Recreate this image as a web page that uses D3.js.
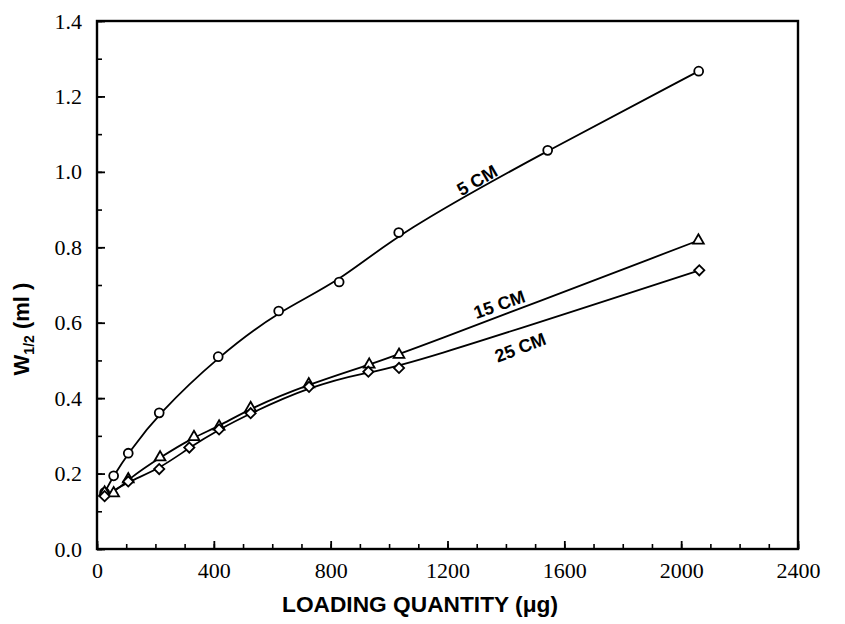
<!DOCTYPE html>
<html>
<head>
<meta charset="utf-8">
<script src="https://cdn.jsdelivr.net/npm/d3@7/dist/d3.min.js"></script>
<style>
    body { margin: 0; background: #fff; }
    .tick text { font-family: 'Liberation Serif', 'Times New Roman', serif; font-size: 22px; fill: #000; }
    .axis-title, .curve-label { font-family: 'Liberation Sans', Arial, sans-serif; font-weight: bold; fill: #000; }
</style>
</head>
<body>
<div id="vis"></div>
<script>
// values (x as the marks sit on the printed axis)
var x5cm = [26, 57, 107, 213, 415, 622, 829, 1033, 1543, 2060];
var y5cm = [0.150, 0.194, 0.254, 0.361, 0.510, 0.631, 0.708, 0.839, 1.057, 1.267];

var x15cm = [26, 57, 107, 216, 332, 418, 526, 725, 932, 1034, 2059];
var y15cm = [0.150, 0.148, 0.185, 0.243, 0.297, 0.325, 0.374, 0.437, 0.489, 0.515, 0.818];

var x25cm = [26, 107, 213, 316, 418, 526, 726, 929, 1034, 2062];
var y25cm = [0.140, 0.179, 0.212, 0.269, 0.317, 0.360, 0.430, 0.470, 0.480, 0.739];

var xTicks = [0, 400, 800, 1200, 1600, 2000, 2400];
var yTicks = [0.0, 0.2, 0.4, 0.6, 0.8, 1.0, 1.2, 1.4];

var zip = function(xs, ys) {
    return xs.map(function(v, i) { return {x: v, y: ys[i]}; });
};

var series = [
    {name: '5 CM', marker: 'circle', values: zip(x5cm, y5cm)},
    {name: '15 CM', marker: 'triangle', values: zip(x15cm, y15cm)},
    {name: '25 CM', marker: 'diamond', values: zip(x25cm, y25cm)}
];

var width = 845, height = 624;
var margin = {left: 97, top: 21, right: 47, bottom: 75};

var svg = d3.select('#vis')
    .append('svg')
    .attr('width', width)
    .attr('height', height);

var xScale = d3.scaleLinear().domain([0, 2400]).range([margin.left, width - margin.right]);
var yScale = d3.scaleLinear().domain([0, 1.4]).range([height - margin.bottom, margin.top]);

// minor ticks
svg.append('g')
    .attr('transform', 'translate(0,' + yScale(0) + ')')
    .call(d3.axisBottom(xScale).ticks(24).tickSizeInner(-5).tickSizeOuter(0).tickFormat(''))
    .call(function(g) { g.select('.domain').remove(); })
    .selectAll('line').attr('stroke', '#000').attr('stroke-width', 1.6);

svg.append('g')
    .attr('transform', 'translate(' + xScale(0) + ',0)')
    .call(d3.axisLeft(yScale).ticks(14).tickSizeInner(-5).tickSizeOuter(0).tickFormat(''))
    .call(function(g) { g.select('.domain').remove(); })
    .selectAll('line').attr('stroke', '#000').attr('stroke-width', 1.6);

// major ticks + labels
var xAxis = svg.append('g')
    .attr('transform', 'translate(0,' + yScale(0) + ')')
    .call(d3.axisBottom(xScale).tickValues(xTicks).tickSizeInner(-8).tickSizeOuter(0).tickPadding(13).tickFormat(d3.format('d')));
xAxis.select('.domain').remove();
xAxis.selectAll('line').attr('stroke', '#000').attr('stroke-width', 1.8);

var yAxis = svg.append('g')
    .attr('transform', 'translate(' + xScale(0) + ',0)')
    .call(d3.axisLeft(yScale).tickValues(yTicks).tickSizeInner(-8).tickSizeOuter(0).tickPadding(15).tickFormat(d3.format('.1f')));
yAxis.select('.domain').remove();
yAxis.selectAll('line').attr('stroke', '#000').attr('stroke-width', 1.8);

// frame
svg.append('rect')
    .attr('x', xScale(0))
    .attr('y', yScale(1.4))
    .attr('width', xScale(2400) - xScale(0))
    .attr('height', yScale(0) - yScale(1.4))
    .attr('fill', 'none')
    .attr('stroke', '#000')
    .attr('stroke-width', 2.4);

// smooth fitted curves, like the hand-drawn ones
var line = d3.line()
    .x(function(d) { return xScale(d.x); })
    .y(function(d) { return yScale(d.y); })
    .curve(d3.curveBasis);

svg.selectAll('.curve')
    .data(series)
    .enter().append('path')
    .attr('class', 'curve')
    .attr('d', function(d) { return line(d.values); })
    .attr('fill', 'none')
    .attr('stroke', '#000')
    .attr('stroke-width', 1.8);

var symbolFor = {
    circle: d3.symbol().type(d3.symbolCircle).size(62),
    triangle: d3.symbol().type(d3.symbolTriangle).size(50),
    diamond: d3.symbol().type(d3.symbolSquare).size(52)
};

series.forEach(function(s) {
    svg.append('g')
        .selectAll('path')
        .data(s.values)
        .enter().append('path')
        .attr('d', symbolFor[s.marker]())
        .attr('transform', function(d) {
            var t = 'translate(' + xScale(d.x) + ',' + yScale(d.y) + ')';
            return s.marker === 'diamond' ? t + ' rotate(45)' : t;
        })
        .attr('fill', '#fff')
        .attr('stroke', '#000')
        .attr('stroke-width', 1.8);
});

// curve labels
var curveLabels = [
    {text: '5 CM', x: 1301, y: 0.978, angle: -30},
    {text: '15 CM', x: 1377, y: 0.649, angle: -19},
    {text: '25 CM', x: 1449, y: 0.535, angle: -21}
];

svg.selectAll('.curve-label')
    .data(curveLabels)
    .enter().append('text')
    .attr('class', 'curve-label')
    .attr('transform', function(d) {
        return 'translate(' + xScale(d.x) + ',' + yScale(d.y) + ') rotate(' + d.angle + ')';
    })
    .attr('text-anchor', 'middle')
    .attr('dy', '0.36em')
    .style('font-size', '18px')
    .text(function(d) { return d.text; });

// axis titles
svg.append('text')
    .attr('class', 'axis-title')
    .attr('x', 420)
    .attr('y', 612)
    .attr('text-anchor', 'middle')
    .style('font-size', '22px')
    .attr('textLength', 276)
    .attr('lengthAdjust', 'spacingAndGlyphs')
    .text('LOADING QUANTITY (\u03bcg)');

var yTitle = svg.append('text')
    .attr('class', 'axis-title')
    .attr('transform', 'translate(29,329) rotate(-90)')
    .attr('text-anchor', 'middle')
    .style('font-size', '22px');
yTitle.append('tspan').text('W');
yTitle.append('tspan').attr('dy', 5).style('font-size', '14px').text('1/2');
yTitle.append('tspan').attr('dy', -5).text(' (ml )');
</script>
</body>
</html>
